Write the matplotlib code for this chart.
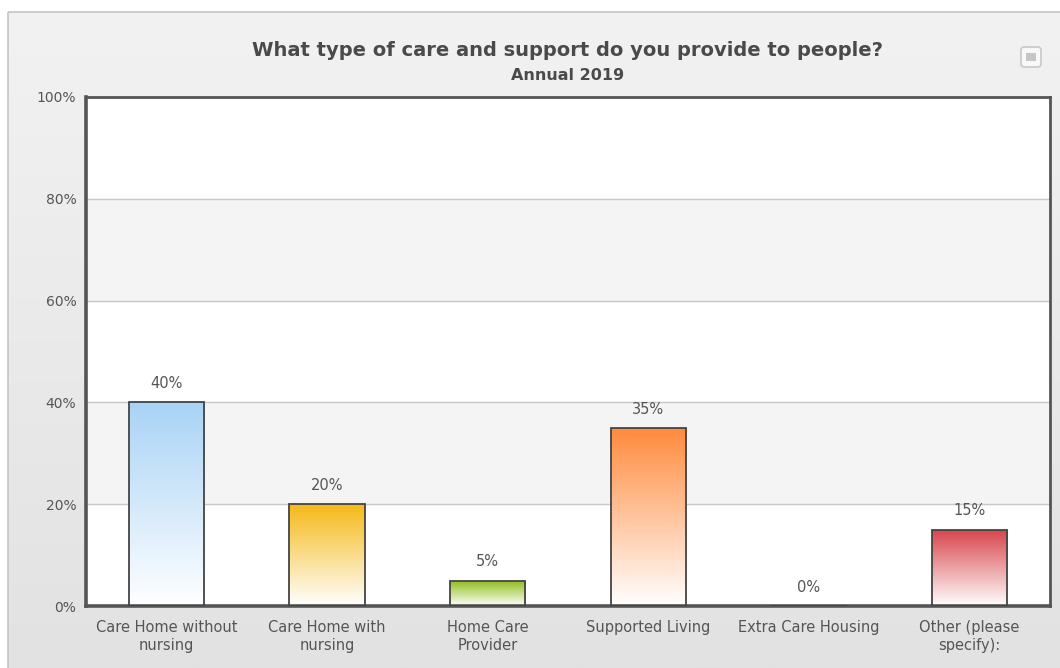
import matplotlib.pyplot as plt
import numpy as np
from matplotlib.colors import LinearSegmentedColormap
from matplotlib.patches import Rectangle, FancyBboxPatch

categories = ["Care Home without\nnursing", "Care Home with\nnursing", "Home Care\nProvider",
              "Supported Living", "Extra Care Housing", "Other (please\nspecify):"]
values = [40, 20, 5, 35, 0, 15]
bar_colors = ["#a8d3f6", "#f5b918", "#8dbd17", "#ff8a3d", "#999999", "#d8434a"]
yticks = [0, 20, 40, 60, 80, 100]

W, H = 1060, 668
fig = plt.figure(figsize=(W / 100, H / 100), dpi=100)
fig.patch.set_facecolor("white")

# background of the chart panel (gradient)
bg = fig.add_axes([0, 0, 1, 1], zorder=-10)
bg.set_xlim(0, W)
bg.set_ylim(H, 0)
bg.axis("off")
grad = np.linspace(0, 1, 256).reshape(-1, 1)
bgcmap = LinearSegmentedColormap.from_list("bg", ["#f2f2f2", "#e2e2e2"])
bg.imshow(grad, cmap=bgcmap, extent=[8, W + 5, H, 12], aspect="auto")
bg.add_patch(Rectangle((8, 12), W, H, fill=False, edgecolor="#c4c4c4", lw=1.2))
# little menu button top right
bg.add_patch(FancyBboxPatch((1021, 47), 20, 20, boxstyle="round,pad=0,rounding_size=3",
                            facecolor="#f8f8f8", edgecolor="#c8c8c8", lw=1.2))
bg.add_patch(Rectangle((1026, 53), 10, 8, facecolor="#c6c6c6", edgecolor="none"))

bg.text(568, 50, "What type of care and support do you provide to people?", ha="center", va="center",
        fontsize=14, fontweight="bold", color="#4a4a4a")
bg.text(568, 75, "Annual 2019", ha="center", va="center", fontsize=11.5, fontweight="bold",
        color="#4a4a4a")

ax = fig.add_axes([86 / W, 1 - 606 / H, (1050 - 86) / W, (606 - 97) / H])
ax.set_facecolor("white")
x = np.arange(len(categories))
ax.set_xlim(-0.5, len(categories) - 0.5)
ax.set_ylim(0, 100)

# alternating bands
for i in range(len(yticks) - 1):
    if i % 2 == 1:
        ax.axhspan(yticks[i], yticks[i + 1], color="#f4f4f4", zorder=0)
for t in yticks[1:-1]:
    ax.axhline(t, color="#c8c8c8", lw=1, zorder=1)

bars = ax.bar(x, values, width=0.47, facecolor="none", edgecolor="#444444", lw=1.3, zorder=3)
for b, c, v in zip(bars, bar_colors, values):
    if v > 0:
        cmap = LinearSegmentedColormap.from_list("g", ["#ffffff", c])
        im = ax.imshow(np.linspace(0, 1, 256).reshape(-1, 1), cmap=cmap, origin="lower",
                       extent=[b.get_x(), b.get_x() + b.get_width(), 0, v], aspect="auto", zorder=2)
        im.set_clip_path(b)
    ax.text(b.get_x() + b.get_width() / 2, v + 2.2, f"{v}%", ha="center", va="bottom",
            fontsize=10.5, color="#555555")

ax.set_xlim(-0.5, len(categories) - 0.5)
ax.set_ylim(0, 100)
ax.set_yticks(yticks)
ax.set_yticklabels([f"{t}%" for t in yticks], fontsize=10, color="#555555")
ax.set_xticks(x)
ax.set_xticklabels(categories, fontsize=10.5, color="#555555", linespacing=1.3)
ax.tick_params(length=0, pad=7)
ax.tick_params(axis="x", pad=10)
for s in ax.spines.values():
    s.set_color("#555555")
    s.set_linewidth(2)
ax.spines["left"].set_linewidth(2.6)
ax.spines["bottom"].set_linewidth(2.6)

fig.savefig("out.png", dpi=100)
